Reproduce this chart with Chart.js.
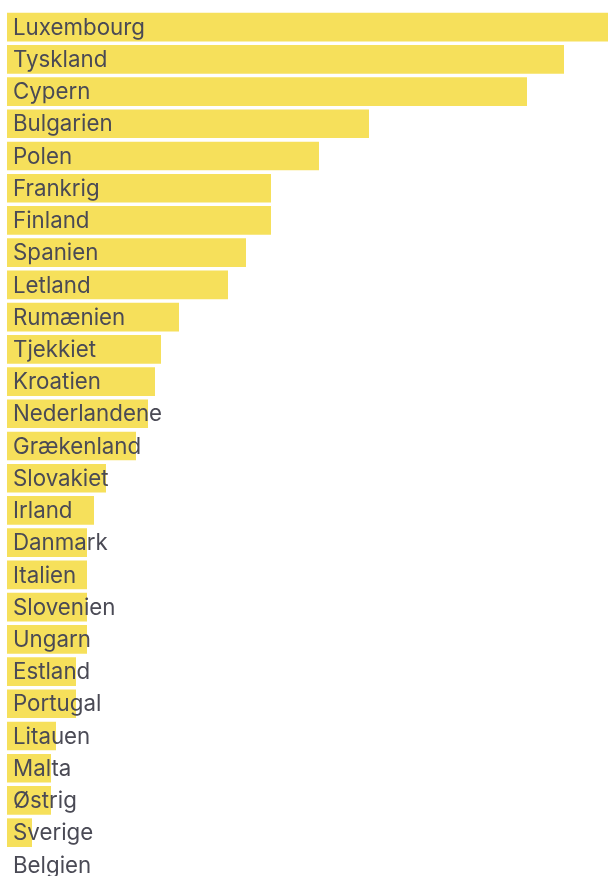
<!DOCTYPE html>
<html>
<head>
<meta charset="utf-8">
<script src="https://cdn.jsdelivr.net/npm/chart.js@4/dist/chart.umd.min.js"></script>
<style>
html,body{margin:0;padding:0;background:#fff;overflow:hidden;}
#wrap{width:608px;height:881px;}
</style>
</head>
<body>
<div id="wrap"><canvas id="c" width="608" height="881"></canvas></div>
<script>
const categories = ["Luxembourg","Tyskland","Cypern","Bulgarien","Polen","Frankrig","Finland","Spanien","Letland","Rumænien","Tjekkiet","Kroatien","Nederlandene","Grækenland","Slovakiet","Irland","Danmark","Italien","Slovenien","Ungarn","Estland","Portugal","Litauen","Malta","Østrig","Sverige","Belgien"];
const values = [601,557,520,362,312,264,264,239,221,172,154,148,141,129,99,87,80,80,80,80,69,69,49,44,44,25,0];
const xMax = 601;

const FONT_FAMILY = "Inter, 'Noto Sans', sans-serif";
// pick a size so the label width resembles the reference
function fontSize(){
  const ctx = document.createElement('canvas').getContext('2d');
  ctx.font = "100px " + FONT_FAMILY;
  const w = ctx.measureText("Luxembourg").width;
  return Math.round(132 / w * 100 * 10) / 10;
}
const FS = fontSize();

const labelPlugin = {
  id: 'insideLabels',
  afterDatasetsDraw(chart){
    const ctx = chart.ctx;
    const meta = chart.getDatasetMeta(0);
    ctx.save();
    ctx.font = FS + "px " + FONT_FAMILY;
    ctx.fillStyle = "#4a4a55";
    ctx.textBaseline = "middle";
    ctx.textAlign = "left";
    meta.data.forEach((bar, i) => {
      ctx.fillText(categories[i], chart.chartArea.left + 6, bar.y + 1);
    });
    ctx.restore();
  }
};

new Chart(document.getElementById('c'), {
  type: 'bar',
  data: {
    labels: categories,
    datasets: [{
      data: values,
      backgroundColor: '#F6E05B',
      borderWidth: 0,
      categoryPercentage: 1,
      barPercentage: 0.89
    }]
  },
  options: {
    indexAxis: 'y',
    responsive: false,
    animation: false,
    layout: { padding: { left: 7, top: 11, right: 0, bottom: 0 } },
    plugins: { legend: { display: false }, tooltip: { enabled: false } },
    scales: {
      x: { display: false, min: 0, max: xMax },
      y: { display: false }
    }
  },
  plugins: [labelPlugin]
});
</script>
</body>
</html>
